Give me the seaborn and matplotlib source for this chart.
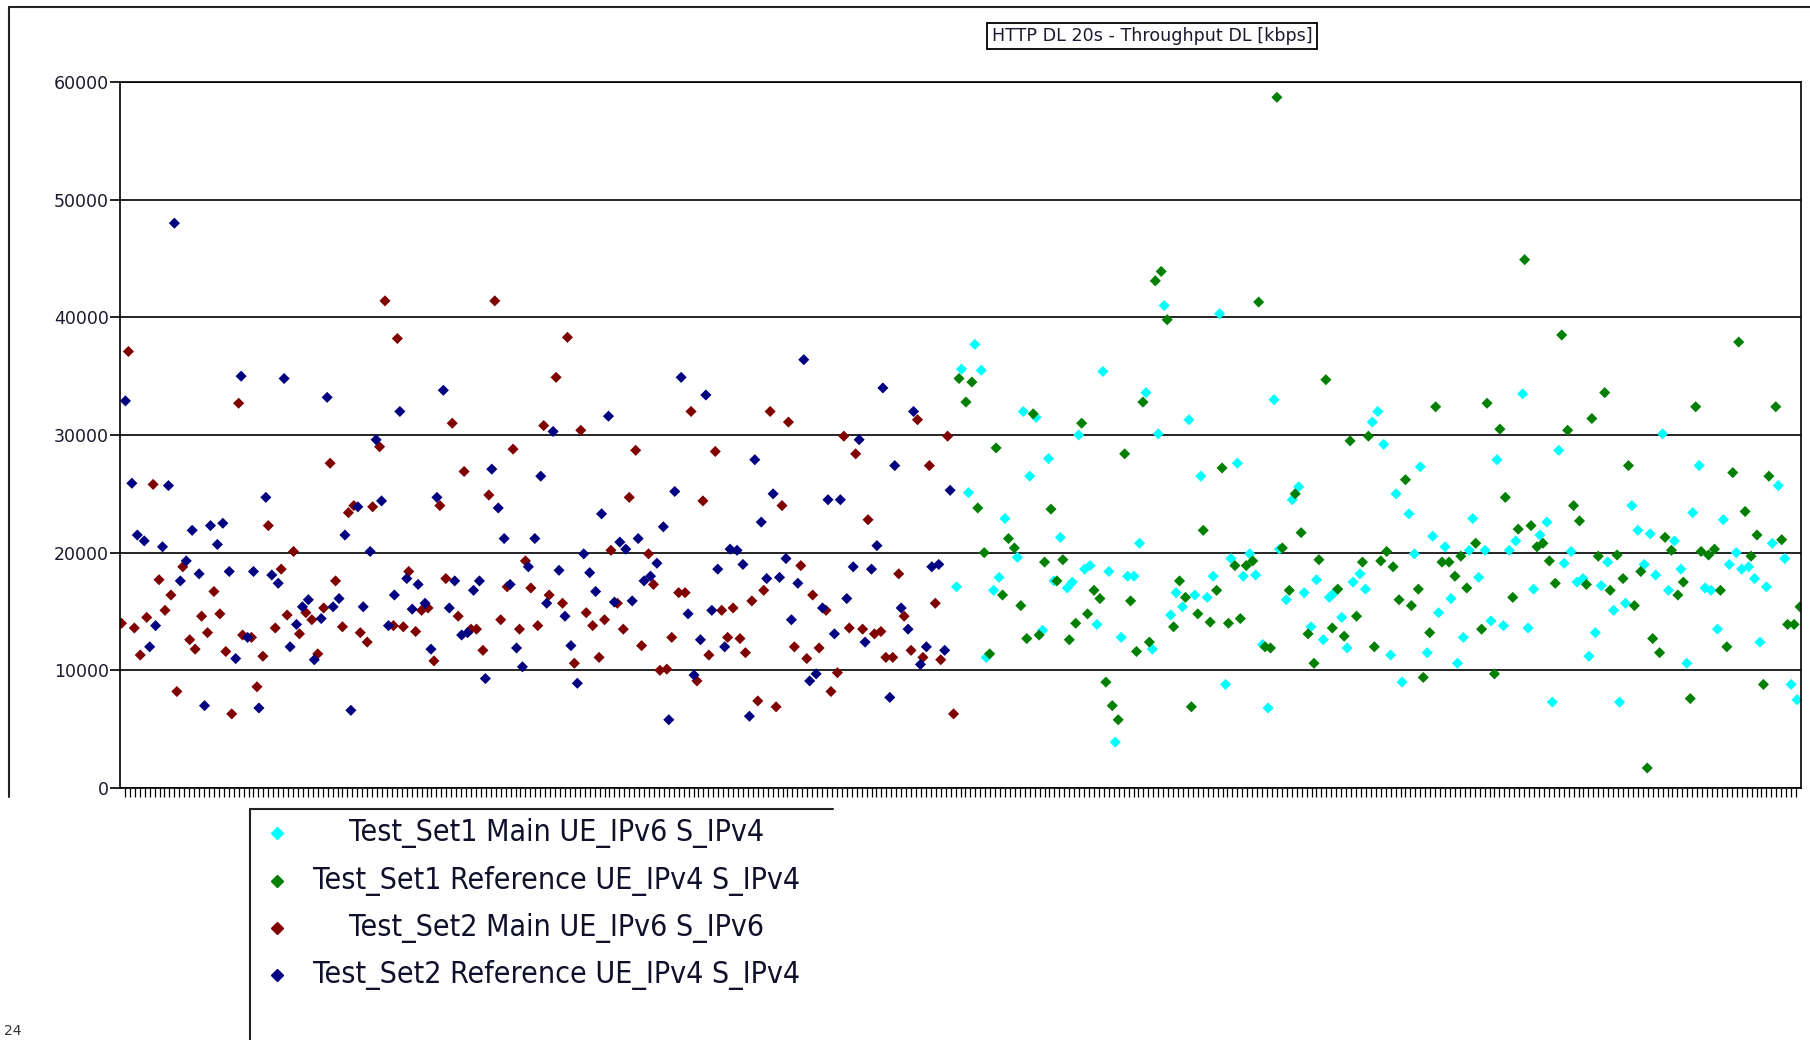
import numpy as np
import pandas as pd
import matplotlib
matplotlib.use("Agg")
import matplotlib.pyplot as plt
import seaborn as sns
from matplotlib import font_manager
from matplotlib.lines import Line2D

# =========================================
#  Data: (sample index, throughput in thousands of kbps)
# =========================================

title = "HTTP DL 20s - Throughput DL [kbps]"
series_names = [
    "Test_Set1 Main UE_IPv6 S_IPv4",
    "Test_Set1 Reference UE_IPv4 S_IPv4",
    "Test_Set2 Main UE_IPv6 S_IPv6",
    "Test_Set2 Reference UE_IPv4 S_IPv4",
]
series_colors = ["#00FFFF", "#008000", "#800000", "#000080"]
y_ticks = [0, 10000, 20000, 30000, 40000, 50000, 60000]
n_samples = 340

set1_main = [
    (211.2, 41.0), (222.4, 40.3), (172.9, 37.7), (170.2, 35.6), (174.2, 35.5), (198.8, 35.4),
    (207.5, 33.6), (182.7, 32.0), (185.3, 31.5), (216.2, 31.3), (193.9, 30.0), (210.0, 30.1),
    (187.8, 28.0), (184.0, 26.5), (218.6, 26.5), (226.0, 27.6), (171.6, 25.1), (179.0, 22.9),
    (190.2, 21.3), (206.2, 20.8), (181.5, 19.6), (224.7, 19.5), (195.1, 18.6), (196.2, 18.9),
    (200.0, 18.4), (203.8, 18.0), (205.1, 18.0), (177.8, 17.9), (169.2, 17.1), (176.7, 16.8),
    (188.9, 17.6), (191.6, 17.0), (192.6, 17.5), (221.1, 18.0), (213.6, 16.6), (217.4, 16.4),
    (219.9, 16.2), (214.9, 15.4), (212.5, 14.7), (197.6, 13.9), (186.6, 13.4), (202.5, 12.8),
    (208.8, 11.8), (175.2, 11.1), (223.6, 8.8), (201.3, 3.9),
    (233.4, 33.0), (254.4, 32.0), (253.3, 31.1), (255.6, 29.2), (278.5, 27.9), (263.0, 27.3),
    (238.4, 25.6), (237.1, 24.5), (258.1, 25.0), (260.7, 23.3), (273.6, 22.9), (265.5, 21.4),
    (268.0, 20.5), (282.3, 21.0), (281.0, 20.2), (276.1, 20.2), (272.9, 20.2), (261.8, 19.9),
    (234.5, 20.3), (228.5, 19.9), (227.2, 18.0), (229.7, 18.1), (250.8, 18.2), (249.4, 17.5),
    (242.0, 17.7), (274.8, 17.9), (251.9, 16.9), (239.5, 16.6), (235.9, 16.0), (244.6, 16.2),
    (245.6, 16.6), (269.2, 16.1), (266.7, 14.9), (247.1, 14.5), (277.3, 14.2), (279.8, 13.8),
    (240.9, 13.7), (243.4, 12.6), (271.7, 12.8), (231.1, 12.2), (248.2, 11.9), (257.0, 11.3),
    (264.4, 11.5), (270.5, 10.6), (259.3, 9.0), (232.2, 6.8),
    (283.7, 33.5), (312.0, 30.1), (291.0, 28.7), (319.4, 27.4), (335.4, 25.7), (305.8, 24.0),
    (318.1, 23.4), (288.6, 22.6), (324.3, 22.8), (307.0, 21.9), (309.5, 21.6), (287.2, 21.5),
    (314.4, 21.0), (334.2, 20.8), (293.5, 20.1), (326.9, 20.0), (336.7, 19.5), (292.1, 19.1),
    (300.9, 19.2), (308.3, 19.0), (325.5, 19.0), (315.7, 18.6), (328.0, 18.6), (329.4, 18.8),
    (310.6, 18.1), (330.6, 17.8), (294.7, 17.5), (295.9, 17.8), (299.6, 17.2), (285.9, 16.9),
    (313.2, 16.8), (320.6, 17.0), (321.8, 16.8), (333.0, 17.1), (304.5, 15.7), (302.1, 15.1),
    (284.8, 13.6), (323.1, 13.5), (298.4, 13.2), (331.7, 12.4), (297.1, 11.2), (316.9, 10.6),
    (338.0, 8.8), (339.2, 7.5), (289.7, 7.3), (303.3, 7.3),
]

set1_reference = [
    (234.0, 58.7), (210.6, 43.9), (209.4, 43.1), (211.8, 39.8), (169.7, 34.8), (172.3, 34.5),
    (171.1, 32.8), (184.7, 31.8), (194.5, 31.0), (206.9, 32.8), (177.2, 28.9), (203.2, 28.4),
    (222.9, 27.2), (173.5, 23.8), (188.3, 23.7), (219.1, 21.9), (179.7, 21.2), (180.9, 20.4),
    (174.8, 20.0), (187.0, 19.2), (190.7, 19.4), (225.5, 18.9), (189.5, 17.6), (214.3, 17.6),
    (197.0, 16.8), (198.2, 16.1), (215.5, 16.2), (221.8, 16.8), (178.5, 16.4), (204.4, 15.9),
    (182.2, 15.5), (195.7, 14.8), (218.0, 14.8), (193.3, 14.0), (213.1, 13.7), (220.5, 14.1),
    (224.2, 14.0), (226.6, 14.4), (183.4, 12.7), (185.9, 13.0), (192.0, 12.6), (208.2, 12.4),
    (205.6, 11.6), (175.9, 11.4), (199.4, 9.0), (200.7, 7.0), (216.7, 6.9), (201.9, 5.8),
    (230.3, 41.3), (243.9, 34.7), (266.1, 32.4), (276.5, 32.7), (279.1, 30.5), (248.8, 29.5),
    (252.5, 29.9), (260.0, 26.2), (280.2, 24.7), (237.7, 25.0), (238.9, 21.7), (282.8, 22.0),
    (274.2, 20.8), (235.1, 20.4), (256.2, 20.1), (271.2, 19.7), (227.8, 18.9), (229.1, 19.3),
    (242.5, 19.4), (251.3, 19.2), (255.0, 19.3), (257.5, 18.8), (267.4, 19.2), (268.8, 19.2),
    (270.0, 18.0), (236.5, 16.8), (246.3, 16.9), (262.6, 16.9), (272.4, 17.0), (258.7, 16.0),
    (261.2, 15.5), (281.7, 16.2), (250.1, 14.6), (240.3, 13.1), (245.2, 13.6), (247.6, 12.9),
    (264.9, 13.2), (275.4, 13.5), (231.6, 12.0), (232.7, 11.9), (253.7, 12.0), (241.5, 10.6),
    (263.6, 9.4), (278.0, 9.7),
    (284.1, 44.9), (291.6, 38.5), (327.4, 37.9), (300.3, 33.6), (318.7, 32.4), (334.9, 32.4),
    (297.7, 31.4), (292.8, 30.4), (305.1, 27.4), (326.2, 26.8), (333.5, 26.5), (294.0, 24.0),
    (328.7, 23.5), (295.2, 22.7), (285.4, 22.3), (331.1, 21.5), (312.5, 21.3), (336.1, 21.1),
    (286.6, 20.5), (287.8, 20.8), (313.8, 20.2), (319.8, 20.1), (321.3, 19.8), (322.5, 20.3),
    (299.0, 19.7), (302.8, 19.8), (329.9, 19.7), (289.1, 19.3), (307.6, 18.4), (304.0, 17.8),
    (316.2, 17.5), (290.3, 17.4), (296.6, 17.3), (301.4, 16.8), (323.7, 16.8), (315.1, 16.4),
    (306.3, 15.5), (339.8, 15.4), (337.3, 13.9), (338.6, 13.9), (310.0, 12.7), (311.4, 11.5),
    (325.0, 12.0), (332.4, 8.8), (317.6, 7.6), (308.9, 1.7),
]

set2_main = [
    (53.6, 41.4), (1.7, 37.1), (24.0, 32.7), (52.5, 29.0), (42.5, 27.6), (6.7, 25.8),
    (30.0, 22.3), (46.2, 23.4), (47.3, 24.0), (51.1, 23.9), (35.1, 20.1), (12.7, 18.8),
    (32.6, 18.6), (7.9, 17.7), (43.6, 17.6), (10.3, 16.4), (19.0, 16.7), (9.1, 15.1),
    (41.2, 15.3), (37.6, 14.9), (5.4, 14.5), (16.5, 14.6), (20.2, 14.8), (33.8, 14.7),
    (0.3, 14.0), (2.9, 13.6), (38.8, 14.3), (31.4, 13.6), (45.0, 13.7), (55.3, 13.8),
    (17.7, 13.2), (24.8, 13.0), (26.6, 12.8), (36.3, 13.1), (48.6, 13.2), (14.1, 12.6),
    (15.2, 11.8), (50.0, 12.4), (4.1, 11.3), (21.4, 11.6), (28.9, 11.2), (40.0, 11.4),
    (27.7, 8.6), (11.5, 8.2), (22.6, 6.3),
    (75.8, 41.4), (56.1, 38.2), (90.5, 38.3), (88.2, 34.9), (67.2, 31.0), (85.7, 30.8),
    (93.2, 30.4), (79.5, 28.8), (104.3, 28.7), (69.6, 26.9), (74.6, 24.9), (103.0, 24.7),
    (64.7, 24.0), (99.3, 20.2), (106.9, 19.9), (82.0, 19.3), (58.4, 18.4), (65.9, 17.8),
    (107.9, 17.3), (78.3, 17.1), (83.1, 17.0), (86.8, 16.4), (89.5, 15.7), (100.6, 15.7),
    (61.0, 15.1), (62.3, 15.3), (68.4, 14.6), (77.0, 14.3), (94.3, 14.9), (98.0, 14.3),
    (57.3, 13.7), (59.8, 13.3), (71.0, 13.5), (72.1, 13.5), (80.8, 13.5), (84.5, 13.8),
    (95.6, 13.8), (101.8, 13.5), (111.6, 12.8), (73.4, 11.7), (105.5, 12.1), (63.5, 10.8),
    (91.9, 10.6), (96.9, 11.1), (109.2, 10.0), (110.6, 10.1),
    (115.5, 32.0), (131.5, 32.0), (135.2, 31.1), (161.3, 31.3), (146.4, 29.9), (167.4, 29.9),
    (120.4, 28.6), (148.8, 28.4), (163.7, 27.4), (117.9, 24.4), (133.9, 24.0), (151.3, 22.8),
    (137.7, 18.9), (157.5, 18.2), (113.0, 16.6), (114.3, 16.6), (130.2, 16.8), (140.1, 16.4),
    (127.8, 15.9), (124.0, 15.3), (121.7, 15.1), (142.8, 15.1), (164.9, 15.7), (158.6, 14.6),
    (147.5, 13.6), (150.2, 13.5), (152.6, 13.1), (153.9, 13.3), (122.9, 12.8), (125.4, 12.7),
    (136.4, 12.0), (141.4, 11.9), (119.1, 11.3), (126.5, 11.5), (138.9, 11.0), (154.9, 11.1),
    (156.3, 11.1), (160.0, 11.7), (162.4, 11.1), (166.0, 10.9), (145.1, 9.8), (116.7, 9.1),
    (143.8, 8.2), (129.0, 7.4), (132.7, 6.9), (168.6, 6.3),
]

set2_reference = [
    (11.0, 48.0), (24.5, 35.0), (33.2, 34.8), (41.9, 33.2), (1.1, 32.9), (51.8, 29.6),
    (2.4, 25.9), (9.8, 25.7), (29.5, 24.7), (52.9, 24.4), (48.1, 23.9), (20.8, 22.5),
    (18.3, 22.3), (14.6, 21.9), (3.5, 21.5), (4.9, 21.0), (8.6, 20.5), (19.7, 20.7),
    (45.5, 21.5), (50.6, 20.1), (13.4, 19.3), (12.2, 17.6), (16.0, 18.2), (22.1, 18.4),
    (27.0, 18.4), (30.7, 18.1), (32.0, 17.4), (55.5, 16.4), (44.3, 16.1), (38.1, 16.0),
    (36.9, 15.4), (43.1, 15.4), (49.2, 15.4), (40.7, 14.4), (35.7, 13.9), (7.2, 13.8),
    (54.3, 13.8), (25.8, 12.8), (6.0, 12.0), (34.4, 12.0), (23.4, 11.0), (39.3, 10.9),
    (17.1, 7.0), (28.1, 6.8), (46.7, 6.6),
    (56.6, 32.0), (65.4, 33.8), (98.8, 31.6), (87.6, 30.3), (75.2, 27.1), (85.1, 26.5),
    (64.1, 24.7), (76.5, 23.8), (97.4, 23.3), (112.2, 25.2), (109.9, 22.2), (77.7, 21.2),
    (83.9, 21.2), (101.1, 20.9), (102.3, 20.3), (104.8, 21.2), (93.8, 19.9), (108.6, 19.1),
    (82.6, 18.8), (88.8, 18.5), (95.0, 18.3), (58.0, 17.8), (60.3, 17.3), (67.7, 17.6),
    (72.7, 17.6), (71.5, 16.8), (78.9, 17.3), (107.3, 18.0), (106.0, 17.6), (96.2, 16.7),
    (61.7, 15.7), (59.1, 15.2), (66.6, 15.3), (86.3, 15.7), (100.0, 15.8), (103.6, 15.9),
    (90.0, 14.6), (69.1, 13.0), (70.3, 13.2), (62.9, 11.8), (80.2, 11.9), (91.2, 12.1),
    (81.4, 10.3), (73.9, 9.3), (92.5, 8.9), (111.0, 5.8),
    (113.5, 34.9), (138.3, 36.4), (118.5, 33.4), (154.3, 34.0), (160.5, 32.0), (149.5, 29.6),
    (128.4, 27.9), (156.7, 27.4), (132.1, 25.0), (143.2, 24.5), (145.7, 24.5), (167.9, 25.3),
    (129.7, 22.6), (153.1, 20.6), (123.4, 20.3), (124.8, 20.2), (134.7, 19.5), (126.0, 19.0),
    (120.9, 18.6), (148.3, 18.8), (152.0, 18.6), (164.2, 18.8), (165.6, 19.0), (130.8, 17.8),
    (133.4, 17.9), (137.1, 17.4), (147.0, 16.1), (114.9, 14.8), (119.7, 15.1), (142.1, 15.3),
    (158.0, 15.3), (135.8, 14.3), (159.4, 13.5), (144.5, 13.1), (117.4, 12.6), (150.7, 12.4),
    (122.3, 12.0), (163.1, 12.0), (166.8, 11.7), (161.9, 10.5), (116.1, 9.6), (140.8, 9.7),
    (139.5, 9.1), (155.7, 7.7), (127.3, 6.1),
]


def build_frame():
    frames = []
    for name, pts in zip(series_names, [set1_main, set1_reference, set2_main, set2_reference]):
        arr = np.array(pts)
        frames.append(pd.DataFrame({
            "sample": arr[:, 0],
            "throughput": arr[:, 1] * 1000,
            "series": name,
        }))
    return pd.concat(frames, ignore_index=True)


def pick_legend_font():
    fonts = font_manager.fontManager.ttflist
    names = {f.name for f in fonts}
    if "Liberation Sans Narrow" in names:
        return {"family": "Liberation Sans Narrow", "size": 23}
    if any(f.name == "DejaVu Sans" and f.stretch == "condensed" for f in fonts):
        return {"family": "DejaVu Sans", "size": 21.7, "stretch": "condensed"}
    return {"family": "DejaVu Sans", "size": 18.3}


df = build_frame()

sns.set_style("white")
plt.rcParams["font.family"] = ["DejaVu Sans"]

fig = plt.figure(figsize=(18.1, 10.4), dpi=100)
ax = fig.add_axes([120 / 1810, 1 - 788 / 1040, (1801 - 120) / 1810, (788 - 82) / 1040])

sns.scatterplot(
    data=df, x="sample", y="throughput", hue="series",
    hue_order=series_names, palette=series_colors,
    marker="D", s=32, linewidth=0, legend=False, ax=ax,
)

ax.set_xlim(0, n_samples)
ax.set_ylim(0, 60000)
ax.set_xlabel("")
ax.set_ylabel("")

# category ticks along the bottom, no labels
ax.set_xticks(np.arange(1, n_samples))
ax.tick_params(axis="x", bottom=True, direction="out", length=6.5, width=0.9,
               color="black", labelbottom=False)

ax.set_yticks(y_ticks)
ax.set_yticklabels([str(v) for v in y_ticks])
ax.tick_params(axis="y", left=True, direction="out", length=7, width=1.2,
               color="black", pad=1, labelsize=12.5, labelcolor="#1a1a2e")

ax.yaxis.grid(True, color="black", linewidth=1.2)
ax.xaxis.grid(False)
ax.set_axisbelow(True)
for side in ["left", "bottom", "right", "top"]:
    ax.spines[side].set_visible(True)
    ax.spines[side].set_color("black")
    ax.spines[side].set_linewidth(1.2)

# title in a small box
fig.text(1152 / 1810, 1 - 36 / 1040, title, ha="center", va="center",
         fontsize=12.6, color="#1a1a2e",
         bbox=dict(boxstyle="square,pad=0.25", facecolor="white",
                   edgecolor="black", linewidth=1.3))

# outer chart frame (top and left edges only)
frame_kw = dict(color="#222222", linewidth=1.5, transform=fig.transFigure)
fig.add_artist(Line2D([9 / 1810, 1], [1 - 7 / 1040, 1 - 7 / 1040], **frame_kw))
fig.add_artist(Line2D([9 / 1810, 9 / 1810], [1 - 7 / 1040, 1 - 797 / 1040], **frame_kw))

# legend box, open at the bottom/right
fig.add_artist(Line2D([250 / 1810, 833 / 1810], [1 - 809 / 1040, 1 - 809 / 1040], **frame_kw))
fig.add_artist(Line2D([250 / 1810, 250 / 1810], [1 - 809 / 1040, 0], **frame_kw))

legend_font = pick_legend_font()
row_y = [833, 881, 928, 975]
for name, color, ry in zip(series_names, series_colors, row_y):
    fy = 1 - ry / 1040
    fig.add_artist(Line2D([277 / 1810], [fy], marker="D", markersize=6.5,
                          color=color, linestyle="none", transform=fig.transFigure))
    fig.text(557 / 1810, fy, name, ha="center", va="center",
             color="#10102a", **legend_font)

fig.text(4 / 1810, 1 - 1024 / 1040, "24", ha="left", va="top",
         fontsize=10, color="#333333")

fig.savefig("out.png", dpi=100)
